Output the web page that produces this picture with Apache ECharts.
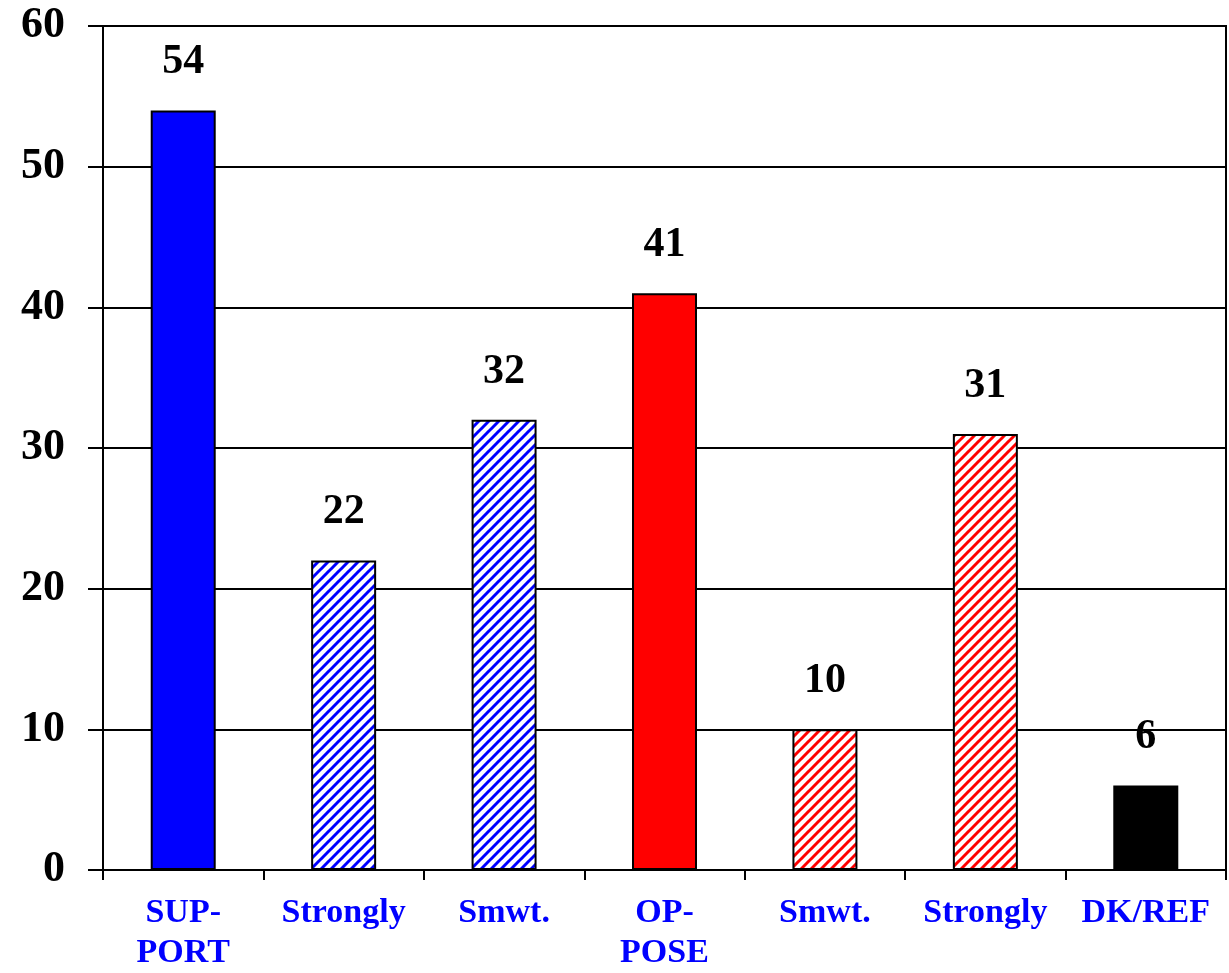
<!DOCTYPE html>
<html>
  <head>
    <meta charset="utf-8" />
    <title>Support / Oppose</title>
    <style>
      html, body { margin: 0; padding: 0; background: #fff; }
      #main { width: 1229px; height: 973px; }
    </style>
  </head>
  <body>
    <script src="https://cdn.jsdelivr.net/npm/echarts@6/dist/echarts.min.js"></script>
    <div id="main"></div>
    <script>
      // data
      var categories = ["SUP-\nPORT", "Strongly", "Smwt.", "OP-\nPOSE", "Smwt.", "Strongly", "DK/REF"];
      var values = [54, 22, 32, 41, 10, 31, 6];
      var yTicks = { min: 0, max: 60, interval: 10 };

      var serif = "'Liberation Serif', 'Times New Roman', serif";

      // diagonal stripe fill, "/" direction
      function hatch(color) {
        var c = document.createElement("canvas");
        c.width = 10;
        c.height = 10;
        var ctx = c.getContext("2d");
        ctx.fillStyle = "#fff";
        ctx.fillRect(0, 0, 10, 10);
        ctx.strokeStyle = color;
        ctx.lineWidth = 3;
        [-10, 0, 10].forEach(function (k) {
          ctx.beginPath();
          ctx.moveTo(k - 1, 11);
          ctx.lineTo(k + 11, -1);
          ctx.stroke();
        });
        return { image: c, repeat: "repeat" };
      }

      var fills = ["#0000ff", hatch("#0000ff"), hatch("#0000ff"), "#ff0000", hatch("#ff0000"), hatch("#ff0000"), "#000"];

      var chart = echarts.init(document.getElementById("main"));
      chart.setOption({
        animation: false,
        backgroundColor: "#fff",
        grid: {
          left: 103, right: 3, top: 26, bottom: 102,
          show: true, borderColor: "#000", borderWidth: 2
        },
        xAxis: {
          type: "category",
          data: categories,
          axisLine: { lineStyle: { color: "#000", width: 2 } },
          axisTick: { show: true, length: 10, lineStyle: { color: "#000", width: 2 } },
          axisLabel: {
            margin: 23, interval: 0,
            color: "#0000ff", fontFamily: serif, fontWeight: "bold",
            fontSize: 34, lineHeight: 40
          }
        },
        yAxis: {
          type: "value",
          min: yTicks.min, max: yTicks.max, interval: yTicks.interval,
          axisLine: { show: true, lineStyle: { color: "#000", width: 2 } },
          axisTick: { show: true, length: 15, lineStyle: { color: "#000", width: 2 } },
          splitLine: { lineStyle: { color: "#000", width: 2 } },
          axisLabel: {
            margin: 38, color: "#000", fontFamily: serif,
            fontWeight: "bold", fontSize: 44
          }
        },
        series: [{
          type: "bar",
          barWidth: 65,
          data: values.map(function (v, i) {
            return { value: v, itemStyle: { color: fills[i] } };
          }),
          itemStyle: { borderColor: "#000", borderWidth: 2 },
          label: {
            show: true, position: "top", distance: 27,
            color: "#000", fontFamily: serif, fontWeight: "bold", fontSize: 42
          }
        }]
      });
    </script>
  </body>
</html>
